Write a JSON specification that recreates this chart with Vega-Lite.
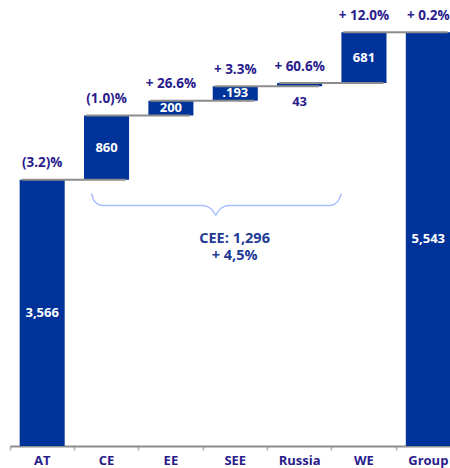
{
  "$schema": "https://vega.github.io/schema/vega-lite/v6.json",
  "width": 440,
  "height": 446,
  "autosize": {"type": "none"},
  "padding": {"left": 10, "top": 0, "right": 0, "bottom": 22},
  "background": "white",
  "config": {"view": {"stroke": null}, "font": "Open Sans"},
  "datasets": {
    "bars": [
      {"cat": "AT", "start": 0, "end": 3566, "value": "3,566", "pct": "(3.2)%"},
      {"cat": "CE", "start": 3566, "end": 4426, "value": "860", "pct": "(1.0)%"},
      {"cat": "EE", "start": 4426, "end": 4626, "value": "200", "pct": "+ 26.6%"},
      {"cat": "SEE", "start": 4626, "end": 4819, "value": ".193", "pct": "+ 3.3%"},
      {"cat": "Russia", "start": 4819, "end": 4862, "value": "43", "pct": "+ 60.6%"},
      {"cat": "WE", "start": 4862, "end": 5543, "value": "681", "pct": "+ 12.0%"},
      {"cat": "Group", "start": 0, "end": 5543, "value": "5,543", "pct": "+ 0.2%"}
    ],
    "links": [
      {"from": "AT", "to": "CE", "level": 3566},
      {"from": "CE", "to": "EE", "level": 4426},
      {"from": "EE", "to": "SEE", "level": 4626},
      {"from": "SEE", "to": "Russia", "level": 4819},
      {"from": "Russia", "to": "WE", "level": 4862},
      {"from": "WE", "to": "Group", "level": 5543}
    ],
    "brace": [
      {"half": "L", "bx": 1.265, "by": 3383},
      {"half": "L", "bx": 1.316, "by": 3275},
      {"half": "L", "bx": 1.44, "by": 3222},
      {"half": "L", "bx": 2.994, "by": 3222},
      {"half": "L", "bx": 3.118, "by": 3182},
      {"half": "L", "bx": 3.196, "by": 3088},
      {"half": "R", "bx": 3.196, "by": 3088},
      {"half": "R", "bx": 3.274, "by": 3182},
      {"half": "R", "bx": 3.398, "by": 3222},
      {"half": "R", "bx": 4.968, "by": 3222},
      {"half": "R", "bx": 5.092, "by": 3275},
      {"half": "R", "bx": 5.149, "by": 3383}
    ],
    "note": [
      {"nx": 3.49, "ny": 2717, "t": "CEE: 1,296\n+ 4,5%"}
    ]
  },
  "resolve": {"scale": {"x": "independent"}},
  "layer": [
    {
      "layer": [
        {
          "data": {"name": "bars"},
          "mark": {"type": "bar", "color": "#003399", "width": {"band": 0.7}},
          "encoding": {
            "x": {
              "field": "cat", "type": "nominal", "sort": null,
              "scale": {"type": "band", "domain": ["AT", "CE", "EE", "SEE", "Russia", "WE", "Group"], "range": [0, 450.5], "paddingInner": 0, "paddingOuter": 0},
              "axis": {
                "title": null, "bandPosition": 0, "labelAngle": 0,
                "domainColor": "#8c8c8c", "domainWidth": 2,
                "tickColor": "#b0b0b0", "tickSize": 4, "tickWidth": 1.5,
                "labelFont": "Open Sans", "labelFontWeight": "bold", "labelFontSize": 13,
                "labelColor": "#2a1c8c", "labelPadding": 4, "labelAlign": "center"
              }
            },
            "y": {
              "field": "start", "type": "quantitative",
              "scale": {"domain": [0, 5975], "nice": false, "zero": false},
              "axis": null
            },
            "y2": {"field": "end"}
          }
        },
        {
          "data": {"name": "links"},
          "mark": {"type": "rule", "color": "#8c8c8c", "strokeWidth": 2},
          "encoding": {
            "x": {"field": "from", "type": "nominal", "bandPosition": 0.18},
            "x2": {"field": "to", "bandPosition": 0.8},
            "y": {"field": "level", "type": "quantitative"}
          }
        },
        {
          "data": {"name": "bars"},
          "mark": {"type": "text", "font": "Open Sans", "fontWeight": "bold", "fontSize": 13.5, "color": "#2a1c8c", "baseline": "middle", "dy": -16.5},
          "encoding": {
            "x": {"field": "cat", "type": "nominal"},
            "y": {"field": "end", "type": "quantitative"},
            "text": {"field": "pct"}
          }
        },
        {
          "data": {"name": "bars"},
          "transform": [
            {"filter": "datum.cat !== 'Russia'"},
            {"calculate": "(datum.start + datum.end) / 2", "as": "mid"}
          ],
          "mark": {"type": "text", "font": "Open Sans", "fontWeight": "bold", "fontSize": 13, "color": "white", "baseline": "middle"},
          "encoding": {
            "x": {"field": "cat", "type": "nominal"},
            "y": {"field": "mid", "type": "quantitative"},
            "text": {"field": "value"}
          }
        },
        {
          "data": {"name": "bars"},
          "transform": [{"filter": "datum.cat === 'Russia'"}],
          "mark": {"type": "text", "font": "Open Sans", "fontWeight": "bold", "fontSize": 13, "color": "#2a1c8c", "baseline": "middle", "dy": 16},
          "encoding": {
            "x": {"field": "cat", "type": "nominal"},
            "y": {"field": "start", "type": "quantitative"},
            "text": {"field": "value"}
          }
        }
      ]
    },
    {
      "layer": [
        {
          "data": {"name": "brace"},
          "mark": {"type": "line", "color": "#a9bfff", "strokeWidth": 1.5, "interpolate": "monotone"},
          "encoding": {
            "x": {"field": "bx", "type": "quantitative", "scale": {"domain": [0, 7], "range": [0, 450.5], "nice": false, "zero": false}, "axis": null},
            "y": {"field": "by", "type": "quantitative"},
            "detail": {"field": "half"}
          }
        },
        {
          "data": {"name": "note"},
          "mark": {"type": "text", "font": "Open Sans", "fontWeight": "bold", "fontSize": 14.5, "color": "#1f3a94", "align": "center", "baseline": "alphabetic", "lineBreak": "\n", "lineHeight": 17},
          "encoding": {
            "x": {"field": "nx", "type": "quantitative"},
            "y": {"field": "ny", "type": "quantitative"},
            "text": {"field": "t"}
          }
        }
      ]
    }
  ]
}
